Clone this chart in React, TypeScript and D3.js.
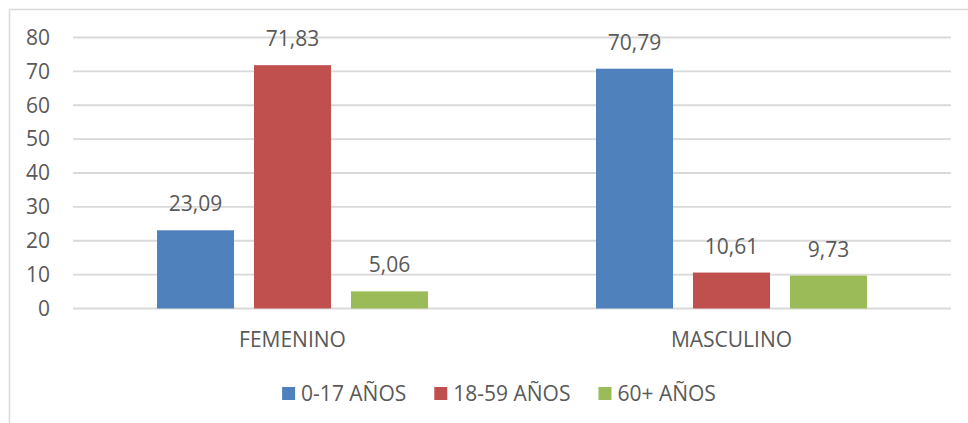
import { useMemo } from 'react';
import * as d3 from 'd3';

const categories = ['FEMENINO', 'MASCULINO'];
const seriesNames = ['0-17 AÑOS', '18-59 AÑOS', '60+ AÑOS'];
const seriesColors = ['#4f81bd', '#c0504d', '#9bbb59'];
const values0to17 = [23.09, 70.79];
const values18to59 = [71.83, 10.61];
const values60plus = [5.06, 9.73];
const yTicks = [0, 10, 20, 30, 40, 50, 60, 70, 80];

const WIDTH = 968;
const HEIGHT = 423;
const FONT = "'Open Sans', 'DejaVu Sans', sans-serif";
const FS = 21;
const TEXT = '#595959';
const GRID = '#d9d9d9';

const locale = d3.formatLocale({ decimal: ',', thousands: '.', grouping: [3], currency: ['', ''] });
const fmt = locale.format('.2f');

const measure = (txt: string, size: number) => {
  const ctx = document.createElement('canvas').getContext('2d');
  if (!ctx) return txt.length * size * 0.55;
  ctx.font = `${size}px ${FONT}`;
  return ctx.measureText(txt).width;
};

export default function App() {
  const plot = { left: 73, right: 951, top: 37.5, bottom: 308.5 };

  const x = d3.scaleBand().domain(categories).range([plot.left, plot.right]).padding(0);
  const xs = d3
    .scaleBand()
    .domain(seriesNames)
    .range([0, x.bandwidth()])
    .paddingInner(0.206)
    .paddingOuter(0.866);
  const y = d3.scaleLinear().domain([0, 80]).range([plot.bottom, plot.top]);

  const series = [values0to17, values18to59, values60plus];

  const legend = useMemo(() => {
    const sq = 13;
    const gapText = 6;
    const gapItem = 28;
    const widths = seriesNames.map((s) => measure(s, FS));
    const total = widths.reduce((a, w) => a + sq + gapText + w, 0) + gapItem * (seriesNames.length - 1);
    let cx = 499 - total / 2;
    return seriesNames.map((s, i) => {
      const item = { name: s, x: cx, color: seriesColors[i] };
      cx += sq + gapText + widths[i] + gapItem;
      return item;
    });
  }, []);

  return (
    <svg
      width={WIDTH}
      height={HEIGHT}
      style={{ position: 'fixed', left: 0, top: 0, background: '#fff' }}
      fontFamily={FONT}
    >
      <rect x={0} y={0} width={WIDTH} height={HEIGHT} fill="#fff" />
      <line x1={9.5} x2={WIDTH} y1={9.5} y2={9.5} stroke={GRID} strokeWidth={1.5} />
      <line x1={9.5} x2={9.5} y1={9.5} y2={HEIGHT} stroke={GRID} strokeWidth={1.5} />

      {yTicks.map((t) => (
        <g key={t}>
          <line x1={plot.left} x2={plot.right} y1={y(t)} y2={y(t)} stroke={GRID} strokeWidth={1.8} />
          <text x={50} y={y(t)} dy="0.35em" textAnchor="end" fontSize={FS} fill={TEXT}>
            {t}
          </text>
        </g>
      ))}

      {categories.map((c, ci) => (
        <g key={c} transform={`translate(${x(c)},0)`}>
          {series.map((vals, si) => {
            const bx = xs(seriesNames[si]) ?? 0;
            const v = vals[ci];
            return (
              <g key={si}>
                <rect
                  x={bx}
                  y={y(v)}
                  width={xs.bandwidth()}
                  height={y(0) - y(v)}
                  fill={seriesColors[si]}
                />
                <text
                  x={bx + xs.bandwidth() / 2}
                  y={y(v) - 19}
                  textAnchor="middle"
                  fontSize={FS}
                  fill={TEXT}
                >
                  {fmt(v)}
                </text>
              </g>
            );
          })}
          <text x={x.bandwidth() / 2} y={347} textAnchor="middle" fontSize={FS} fill={TEXT}>
            {c}
          </text>
        </g>
      ))}

      {legend.map((l) => (
        <g key={l.name}>
          <rect x={l.x} y={387} width={13} height={13} fill={l.color} />
          <text x={l.x + 19} y={400.5} fontSize={FS} fill={TEXT}>
            {l.name}
          </text>
        </g>
      ))}
    </svg>
  );
}
